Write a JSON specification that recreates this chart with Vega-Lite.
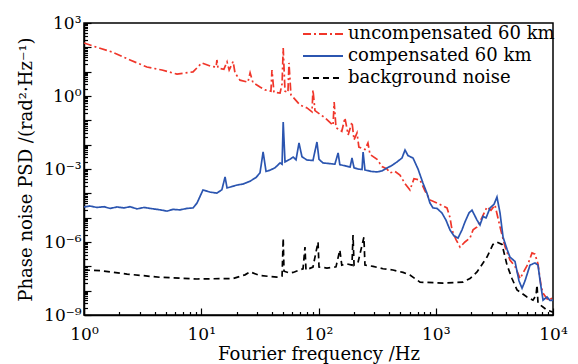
{
  "$schema": "https://vega.github.io/schema/vega-lite/v6.json",
  "width": 469,
  "height": 292,
  "autosize": {"type": "none"},
  "padding": {"left": 84, "top": 23, "right": 25, "bottom": 49},
  "background": "white",
  "config": {"view": {"stroke": "black", "strokeWidth": 1.5}, "font": "DejaVu Serif"},
  "data": {"values": [
    {"series": "background noise", "freq": 1, "psd": 7.08e-8},
    {"series": "background noise", "freq": 1.37, "psd": 6.61e-8},
    {"series": "background noise", "freq": 2.33, "psd": 4.79e-8},
    {"series": "background noise", "freq": 4.45, "psd": 3.55e-8},
    {"series": "background noise", "freq": 9.2, "psd": 3.02e-8},
    {"series": "background noise", "freq": 18.7, "psd": 3.16e-8},
    {"series": "background noise", "freq": 23.6, "psd": 4.47e-8},
    {"series": "background noise", "freq": 26.1, "psd": 5.89e-8},
    {"series": "background noise", "freq": 31.7, "psd": 4.17e-8},
    {"series": "background noise", "freq": 44.3, "psd": 3.63e-8},
    {"series": "background noise", "freq": 48.9, "psd": 3.98e-8},
    {"series": "background noise", "freq": 50, "psd": 1.45e-6},
    {"series": "background noise", "freq": 50.8, "psd": 6.31e-8},
    {"series": "background noise", "freq": 57.1, "psd": 5.25e-8},
    {"series": "background noise", "freq": 60.7, "psd": 5.62e-8},
    {"series": "background noise", "freq": 73.8, "psd": 7.94e-8},
    {"series": "background noise", "freq": 76.7, "psd": 6.17e-7},
    {"series": "background noise", "freq": 78.2, "psd": 7.08e-8},
    {"series": "background noise", "freq": 89.7, "psd": 9.33e-8},
    {"series": "background noise", "freq": 99.1, "psd": 1e-6},
    {"series": "background noise", "freq": 101, "psd": 9.33e-8},
    {"series": "background noise", "freq": 118, "psd": 8.51e-8},
    {"series": "background noise", "freq": 141, "psd": 9.55e-8},
    {"series": "background noise", "freq": 152, "psd": 4.68e-7},
    {"series": "background noise", "freq": 158, "psd": 1.12e-7},
    {"series": "background noise", "freq": 175, "psd": 1.26e-7},
    {"series": "background noise", "freq": 193, "psd": 1.12e-7},
    {"series": "background noise", "freq": 197, "psd": 1.95e-6},
    {"series": "background noise", "freq": 201, "psd": 1.12e-7},
    {"series": "background noise", "freq": 217, "psd": 1.41e-7},
    {"series": "background noise", "freq": 244, "psd": 1.58e-6},
    {"series": "background noise", "freq": 249, "psd": 1.12e-7},
    {"series": "background noise", "freq": 292, "psd": 1e-7},
    {"series": "background noise", "freq": 355, "psd": 7.94e-8},
    {"series": "background noise", "freq": 431, "psd": 7.08e-8},
    {"series": "background noise", "freq": 526, "psd": 5.62e-8},
    {"series": "background noise", "freq": 603, "psd": 4.37e-8},
    {"series": "background noise", "freq": 735, "psd": 2.24e-8},
    {"series": "background noise", "freq": 1153, "psd": 2.04e-8},
    {"series": "background noise", "freq": 1706, "psd": 2.24e-8},
    {"series": "background noise", "freq": 1959, "psd": 3.16e-8},
    {"series": "background noise", "freq": 2249, "psd": 5.89e-8},
    {"series": "background noise", "freq": 2735, "psd": 2.4e-7},
    {"series": "background noise", "freq": 3076, "psd": 7.94e-7},
    {"series": "background noise", "freq": 3327, "psd": 1e-6},
    {"series": "background noise", "freq": 3673, "psd": 7.94e-7},
    {"series": "background noise", "freq": 4055, "psd": 1.12e-7},
    {"series": "background noise", "freq": 4467, "psd": 3.16e-8},
    {"series": "background noise", "freq": 4932, "psd": 1.07e-8},
    {"series": "background noise", "freq": 5998, "psd": 5.5e-9},
    {"series": "background noise", "freq": 6745, "psd": 4.07e-9},
    {"series": "background noise", "freq": 7161, "psd": 6.31e-9},
    {"series": "background noise", "freq": 7311, "psd": 1.7e-8},
    {"series": "background noise", "freq": 7447, "psd": 3.09e-9},
    {"series": "background noise", "freq": 8892, "psd": 1.58e-9},
    {"series": "background noise", "freq": 10000, "psd": 1.32e-9},

    {"series": "uncompensated 60 km", "freq": 1, "psd": 151},
    {"series": "uncompensated 60 km", "freq": 1.29, "psd": 100},
    {"series": "uncompensated 60 km", "freq": 1.73, "psd": 64.6},
    {"series": "uncompensated 60 km", "freq": 2.47, "psd": 30.2},
    {"series": "uncompensated 60 km", "freq": 3.44, "psd": 15.5},
    {"series": "uncompensated 60 km", "freq": 4.62, "psd": 11.7},
    {"series": "uncompensated 60 km", "freq": 6.21, "psd": 7.94},
    {"series": "uncompensated 60 km", "freq": 8.51, "psd": 9.77},
    {"series": "uncompensated 60 km", "freq": 10.1, "psd": 22.9},
    {"series": "uncompensated 60 km", "freq": 11.9, "psd": 17.0},
    {"series": "uncompensated 60 km", "freq": 13.4, "psd": 15.5},
    {"series": "uncompensated 60 km", "freq": 13.6, "psd": 30.2},
    {"series": "uncompensated 60 km", "freq": 13.9, "psd": 14.1},
    {"series": "uncompensated 60 km", "freq": 15.6, "psd": 12.6},
    {"series": "uncompensated 60 km", "freq": 16.6, "psd": 25.1},
    {"series": "uncompensated 60 km", "freq": 17.3, "psd": 11.7},
    {"series": "uncompensated 60 km", "freq": 18.7, "psd": 26.3},
    {"series": "uncompensated 60 km", "freq": 19.4, "psd": 8.91},
    {"series": "uncompensated 60 km", "freq": 21.4, "psd": 4.47},
    {"series": "uncompensated 60 km", "freq": 25.0, "psd": 3.72},
    {"series": "uncompensated 60 km", "freq": 26.1, "psd": 8.91},
    {"series": "uncompensated 60 km", "freq": 27.6, "psd": 3.55},
    {"series": "uncompensated 60 km", "freq": 31.7, "psd": 2.34},
    {"series": "uncompensated 60 km", "freq": 35.0, "psd": 1.78},
    {"series": "uncompensated 60 km", "freq": 39.3, "psd": 1.58},
    {"series": "uncompensated 60 km", "freq": 40.1, "psd": 11.7},
    {"series": "uncompensated 60 km", "freq": 41.7, "psd": 1.41},
    {"series": "uncompensated 60 km", "freq": 47.0, "psd": 1.32},
    {"series": "uncompensated 60 km", "freq": 48.9, "psd": 3.16},
    {"series": "uncompensated 60 km", "freq": 50.0, "psd": 93.3},
    {"series": "uncompensated 60 km", "freq": 51.8, "psd": 1.58},
    {"series": "uncompensated 60 km", "freq": 54.9, "psd": 1.41},
    {"series": "uncompensated 60 km", "freq": 56.0, "psd": 22.9},
    {"series": "uncompensated 60 km", "freq": 58.2, "psd": 1.12},
    {"series": "uncompensated 60 km", "freq": 69.5, "psd": 0.427},
    {"series": "uncompensated 60 km", "freq": 79.8, "psd": 0.324},
    {"series": "uncompensated 60 km", "freq": 88.0, "psd": 0.224},
    {"series": "uncompensated 60 km", "freq": 89.7, "psd": 1.78},
    {"series": "uncompensated 60 km", "freq": 93.3, "psd": 0.251},
    {"series": "uncompensated 60 km", "freq": 103, "psd": 0.178},
    {"series": "uncompensated 60 km", "freq": 114, "psd": 0.126},
    {"series": "uncompensated 60 km", "freq": 133, "psd": 0.0631},
    {"series": "uncompensated 60 km", "freq": 136, "psd": 0.562},
    {"series": "uncompensated 60 km", "freq": 141, "psd": 0.0501},
    {"series": "uncompensated 60 km", "freq": 158, "psd": 0.0355},
    {"series": "uncompensated 60 km", "freq": 168, "psd": 0.126},
    {"series": "uncompensated 60 km", "freq": 179, "psd": 0.0251},
    {"series": "uncompensated 60 km", "freq": 193, "psd": 0.0851},
    {"series": "uncompensated 60 km", "freq": 201, "psd": 0.0158},
    {"series": "uncompensated 60 km", "freq": 213, "psd": 0.0302},
    {"series": "uncompensated 60 km", "freq": 221, "psd": 0.00794},
    {"series": "uncompensated 60 km", "freq": 249, "psd": 0.00631},
    {"series": "uncompensated 60 km", "freq": 264, "psd": 0.0117},
    {"series": "uncompensated 60 km", "freq": 275, "psd": 0.00398},
    {"series": "uncompensated 60 km", "freq": 316, "psd": 0.00251},
    {"series": "uncompensated 60 km", "freq": 348, "psd": 0.00126},
    {"series": "uncompensated 60 km", "freq": 384, "psd": 0.001},
    {"series": "uncompensated 60 km", "freq": 407, "psd": 6.92e-4},
    {"series": "uncompensated 60 km", "freq": 449, "psd": 7.94e-4},
    {"series": "uncompensated 60 km", "freq": 495, "psd": 5.62e-4},
    {"series": "uncompensated 60 km", "freq": 547, "psd": 2.51e-4},
    {"series": "uncompensated 60 km", "freq": 603, "psd": 1.38e-4},
    {"series": "uncompensated 60 km", "freq": 652, "psd": 3.98e-4},
    {"series": "uncompensated 60 km", "freq": 735, "psd": 3.55e-4},
    {"series": "uncompensated 60 km", "freq": 809, "psd": 1.26e-4},
    {"series": "uncompensated 60 km", "freq": 893, "psd": 5.37e-5},
    {"series": "uncompensated 60 km", "freq": 1025, "psd": 3.98e-5},
    {"series": "uncompensated 60 km", "freq": 1130, "psd": 3.16e-5},
    {"series": "uncompensated 60 km", "freq": 1247, "psd": 2.51e-5},
    {"series": "uncompensated 60 km", "freq": 1324, "psd": 1e-5},
    {"series": "uncompensated 60 km", "freq": 1377, "psd": 3.09e-6},
    {"series": "uncompensated 60 km", "freq": 1489, "psd": 1.26e-6},
    {"series": "uncompensated 60 km", "freq": 1611, "psd": 6.17e-7},
    {"series": "uncompensated 60 km", "freq": 1774, "psd": 1e-6},
    {"series": "uncompensated 60 km", "freq": 1959, "psd": 1.45e-6},
    {"series": "uncompensated 60 km", "freq": 2080, "psd": 3.16e-6},
    {"series": "uncompensated 60 km", "freq": 2249, "psd": 4.17e-6},
    {"series": "uncompensated 60 km", "freq": 2477, "psd": 1e-5},
    {"series": "uncompensated 60 km", "freq": 2735, "psd": 2.75e-5},
    {"series": "uncompensated 60 km", "freq": 2958, "psd": 2.0e-5},
    {"series": "uncompensated 60 km", "freq": 3199, "psd": 3.31e-5},
    {"series": "uncompensated 60 km", "freq": 3532, "psd": 4.17e-6},
    {"series": "uncompensated 60 km", "freq": 3899, "psd": 6.31e-7},
    {"series": "uncompensated 60 km", "freq": 4295, "psd": 1.82e-7},
    {"series": "uncompensated 60 km", "freq": 4742, "psd": 1e-7},
    {"series": "uncompensated 60 km", "freq": 5236, "psd": 3.16e-8},
    {"series": "uncompensated 60 km", "freq": 5660, "psd": 6.31e-8},
    {"series": "uncompensated 60 km", "freq": 6124, "psd": 1.26e-7},
    {"series": "uncompensated 60 km", "freq": 6622, "psd": 3.55e-7},
    {"series": "uncompensated 60 km", "freq": 7015, "psd": 3.16e-7},
    {"series": "uncompensated 60 km", "freq": 7447, "psd": 1.26e-7},
    {"series": "uncompensated 60 km", "freq": 7907, "psd": 1.58e-8},
    {"series": "uncompensated 60 km", "freq": 8222, "psd": 7.94e-9},
    {"series": "uncompensated 60 km", "freq": 9057, "psd": 4.07e-9},
    {"series": "uncompensated 60 km", "freq": 10000, "psd": 5.01e-9},

    {"series": "compensated 60 km", "freq": 1, "psd": 2.75e-5},
    {"series": "compensated 60 km", "freq": 1.12, "psd": 3.02e-5},
    {"series": "compensated 60 km", "freq": 1.29, "psd": 2.63e-5},
    {"series": "compensated 60 km", "freq": 1.48, "psd": 2.82e-5},
    {"series": "compensated 60 km", "freq": 1.67, "psd": 2.4e-5},
    {"series": "compensated 60 km", "freq": 1.91, "psd": 2.75e-5},
    {"series": "compensated 60 km", "freq": 2.19, "psd": 2.51e-5},
    {"series": "compensated 60 km", "freq": 2.47, "psd": 2.82e-5},
    {"series": "compensated 60 km", "freq": 2.83, "psd": 2.29e-5},
    {"series": "compensated 60 km", "freq": 3.25, "psd": 2.63e-5},
    {"series": "compensated 60 km", "freq": 3.66, "psd": 2.4e-5},
    {"series": "compensated 60 km", "freq": 4.2, "psd": 2.19e-5},
    {"series": "compensated 60 km", "freq": 4.72, "psd": 2.0e-5},
    {"series": "compensated 60 km", "freq": 5.11, "psd": 1.86e-5},
    {"series": "compensated 60 km", "freq": 5.74, "psd": 2.19e-5},
    {"series": "compensated 60 km", "freq": 6.59, "psd": 2.09e-5},
    {"series": "compensated 60 km", "freq": 7.55, "psd": 2.4e-5},
    {"series": "compensated 60 km", "freq": 8.51, "psd": 2.51e-5},
    {"series": "compensated 60 km", "freq": 9.2, "psd": 3.98e-5},
    {"series": "compensated 60 km", "freq": 10.35, "psd": 1.38e-4},
    {"series": "compensated 60 km", "freq": 11.9, "psd": 1.12e-4},
    {"series": "compensated 60 km", "freq": 13.6, "psd": 1.02e-4},
    {"series": "compensated 60 km", "freq": 15.0, "psd": 1.41e-4},
    {"series": "compensated 60 km", "freq": 15.96, "psd": 4.68e-4},
    {"series": "compensated 60 km", "freq": 16.6, "psd": 1.66e-4},
    {"series": "compensated 60 km", "freq": 18.3, "psd": 1.91e-4},
    {"series": "compensated 60 km", "freq": 20.2, "psd": 2.19e-4},
    {"series": "compensated 60 km", "freq": 22.7, "psd": 2.4e-4},
    {"series": "compensated 60 km", "freq": 26.1, "psd": 3.16e-4},
    {"series": "compensated 60 km", "freq": 29.3, "psd": 4.47e-4},
    {"series": "compensated 60 km", "freq": 31.7, "psd": 6.92e-4},
    {"series": "compensated 60 km", "freq": 33.7, "psd": 5.01e-3},
    {"series": "compensated 60 km", "freq": 35.7, "psd": 7.94e-4},
    {"series": "compensated 60 km", "freq": 38.5, "psd": 8.91e-4},
    {"series": "compensated 60 km", "freq": 42.6, "psd": 1.12e-3},
    {"series": "compensated 60 km", "freq": 47.0, "psd": 1.78e-3},
    {"series": "compensated 60 km", "freq": 48.9, "psd": 1.58e-3},
    {"series": "compensated 60 km", "freq": 50.0, "psd": 0.0851},
    {"series": "compensated 60 km", "freq": 51.8, "psd": 1.95e-3},
    {"series": "compensated 60 km", "freq": 57.1, "psd": 2.51e-3},
    {"series": "compensated 60 km", "freq": 60.7, "psd": 3.09e-3},
    {"series": "compensated 60 km", "freq": 64.3, "psd": 2.4e-3},
    {"series": "compensated 60 km", "freq": 68.2, "psd": 0.0117},
    {"series": "compensated 60 km", "freq": 72.3, "psd": 3.16e-3},
    {"series": "compensated 60 km", "freq": 79.8, "psd": 2.34e-3},
    {"series": "compensated 60 km", "freq": 89.7, "psd": 2.24e-3},
    {"series": "compensated 60 km", "freq": 97.0, "psd": 0.0129},
    {"series": "compensated 60 km", "freq": 101, "psd": 2.51e-3},
    {"series": "compensated 60 km", "freq": 109, "psd": 1.78e-3},
    {"series": "compensated 60 km", "freq": 125, "psd": 1.66e-3},
    {"series": "compensated 60 km", "freq": 138, "psd": 1.58e-3},
    {"series": "compensated 60 km", "freq": 147, "psd": 4.57e-3},
    {"series": "compensated 60 km", "freq": 152, "psd": 1.51e-3},
    {"series": "compensated 60 km", "freq": 172, "psd": 1.32e-3},
    {"series": "compensated 60 km", "freq": 186, "psd": 1.2e-3},
    {"series": "compensated 60 km", "freq": 193, "psd": 2.82e-3},
    {"series": "compensated 60 km", "freq": 201, "psd": 1.12e-3},
    {"series": "compensated 60 km", "freq": 217, "psd": 1.0e-3},
    {"series": "compensated 60 km", "freq": 235, "psd": 9.55e-4},
    {"series": "compensated 60 km", "freq": 240, "psd": 5.01e-3},
    {"series": "compensated 60 km", "freq": 249, "psd": 9.12e-4},
    {"series": "compensated 60 km", "freq": 281, "psd": 7.94e-4},
    {"series": "compensated 60 km", "freq": 316, "psd": 7.59e-4},
    {"series": "compensated 60 km", "freq": 348, "psd": 8.32e-4},
    {"series": "compensated 60 km", "freq": 384, "psd": 1.1e-3},
    {"series": "compensated 60 km", "freq": 424, "psd": 1.41e-3},
    {"series": "compensated 60 km", "freq": 467, "psd": 1.95e-3},
    {"series": "compensated 60 km", "freq": 515, "psd": 2.82e-3},
    {"series": "compensated 60 km", "freq": 547, "psd": 6.03e-3},
    {"series": "compensated 60 km", "freq": 580, "psd": 3.55e-3},
    {"series": "compensated 60 km", "freq": 640, "psd": 2.82e-3},
    {"series": "compensated 60 km", "freq": 706, "psd": 1.0e-3},
    {"series": "compensated 60 km", "freq": 778, "psd": 2.63e-4},
    {"series": "compensated 60 km", "freq": 842, "psd": 1.0e-4},
    {"series": "compensated 60 km", "freq": 893, "psd": 3.98e-5},
    {"series": "compensated 60 km", "freq": 948, "psd": 2.51e-5},
    {"series": "compensated 60 km", "freq": 1025, "psd": 2.4e-5},
    {"series": "compensated 60 km", "freq": 1130, "psd": 1.55e-5},
    {"series": "compensated 60 km", "freq": 1222, "psd": 7.94e-6},
    {"series": "compensated 60 km", "freq": 1324, "psd": 3.09e-6},
    {"series": "compensated 60 km", "freq": 1432, "psd": 1.78e-6},
    {"series": "compensated 60 km", "freq": 1549, "psd": 1.45e-6},
    {"series": "compensated 60 km", "freq": 1675, "psd": 3.16e-6},
    {"series": "compensated 60 km", "freq": 1774, "psd": 6.61e-6},
    {"series": "compensated 60 km", "freq": 1923, "psd": 1.58e-5},
    {"series": "compensated 60 km", "freq": 2037, "psd": 2.04e-5},
    {"series": "compensated 60 km", "freq": 2249, "psd": 7.94e-6},
    {"series": "compensated 60 km", "freq": 2384, "psd": 5.01e-6},
    {"series": "compensated 60 km", "freq": 2529, "psd": 1.12e-5},
    {"series": "compensated 60 km", "freq": 2685, "psd": 9.77e-6},
    {"series": "compensated 60 km", "freq": 2904, "psd": 2.51e-5},
    {"series": "compensated 60 km", "freq": 3141, "psd": 3.55e-5},
    {"series": "compensated 60 km", "freq": 3327, "psd": 7.08e-5},
    {"series": "compensated 60 km", "freq": 3532, "psd": 1.58e-5},
    {"series": "compensated 60 km", "freq": 3750, "psd": 1.58e-6},
    {"series": "compensated 60 km", "freq": 4055, "psd": 5.01e-7},
    {"series": "compensated 60 km", "freq": 4295, "psd": 2.4e-7},
    {"series": "compensated 60 km", "freq": 4742, "psd": 1.58e-7},
    {"series": "compensated 60 km", "freq": 5129, "psd": 2.51e-8},
    {"series": "compensated 60 km", "freq": 5445, "psd": 1.26e-8},
    {"series": "compensated 60 km", "freq": 5768, "psd": 2.51e-8},
    {"series": "compensated 60 km", "freq": 6368, "psd": 1.12e-7},
    {"series": "compensated 60 km", "freq": 7015, "psd": 1.38e-7},
    {"series": "compensated 60 km", "freq": 7447, "psd": 1.12e-7},
    {"series": "compensated 60 km", "freq": 7745, "psd": 2.75e-8},
    {"series": "compensated 60 km", "freq": 8222, "psd": 4.07e-9},
    {"series": "compensated 60 km", "freq": 8892, "psd": 5.5e-9},
    {"series": "compensated 60 km", "freq": 9419, "psd": 3.98e-9},
    {"series": "compensated 60 km", "freq": 10000, "psd": 4.07e-9}
  ]},
  "mark": {"type": "line", "strokeWidth": 1.7, "clip": true},
  "encoding": {
    "x": {
      "field": "freq", "type": "quantitative",
      "scale": {"type": "log", "domain": [1, 10000], "nice": false},
      "axis": {
        "values": [1,2,3,4,5,6,7,8,9,10,20,30,40,50,60,70,80,90,100,200,300,400,500,600,700,800,900,1000,2000,3000,4000,5000,6000,7000,8000,9000,10000],
        "labelExpr": "abs(log(datum.value)/LN10 - round(log(datum.value)/LN10)) < 0.001 ? ['10⁰','10¹','10²','10³','10⁴'][round(log(datum.value)/LN10)] : ''",
        "title": "Fourier frequency /Hz",
        "titleFont": "DejaVu Serif", "titleFontSize": 18, "titleFontWeight": "normal", "titleColor": "black", "titlePadding": 0,
        "labelFont": "DejaVu Serif", "labelFontSize": 17, "labelColor": "black", "labelPadding": 18,
        "labelOverlap": false, "labelFlush": false,
        "tickColor": "black", "tickWidth": 1.2,
        "tickSize": {"condition": {"test": "abs(log(datum.value)/LN10 - round(log(datum.value)/LN10)) < 0.001", "value": -7}, "value": -3.5},
        "domainColor": "black", "domainWidth": 1.5, "grid": false
      }
    },
    "y": {
      "field": "psd", "type": "quantitative",
      "scale": {"type": "log", "domain": [1e-9, 1000], "nice": false},
      "axis": {
        "values": [1e-9,2e-9,3e-9,4e-9,5e-9,6e-9,7e-9,8e-9,9e-9,1e-8,2e-8,3e-8,4e-8,5e-8,6e-8,7e-8,8e-8,9e-8,1e-7,2e-7,3e-7,4e-7,5e-7,6e-7,7e-7,8e-7,9e-7,1e-6,2e-6,3e-6,4e-6,5e-6,6e-6,7e-6,8e-6,9e-6,1e-5,2e-5,3e-5,4e-5,5e-5,6e-5,7e-5,8e-5,9e-5,1e-4,2e-4,3e-4,4e-4,5e-4,6e-4,7e-4,8e-4,9e-4,0.001,0.002,0.003,0.004,0.005,0.006,0.007,0.008,0.009,0.01,0.02,0.03,0.04,0.05,0.06,0.07,0.08,0.09,0.1,0.2,0.3,0.4,0.5,0.6,0.7,0.8,0.9,1,2,3,4,5,6,7,8,9,10,20,30,40,50,60,70,80,90,100,200,300,400,500,600,700,800,900,1000],
        "labelExpr": "abs(log(datum.value)/LN10 - round(log(datum.value)/LN10)) < 0.001 ? ['10⁻⁹','','','10⁻⁶','','','10⁻³','','','10⁰','','','10³'][round(log(datum.value)/LN10)+9] : ''",
        "title": "Phase noise PSD /(rad²·Hz⁻¹)",
        "titleFont": "DejaVu Serif", "titleFontSize": 18, "titleFontWeight": "normal", "titleColor": "black", "titlePadding": 8,
        "labelFont": "DejaVu Serif", "labelFontSize": 17, "labelColor": "black", "labelPadding": 10,
        "labelOverlap": false, "labelFlush": false,
        "tickColor": "black", "tickWidth": 1.2,
        "tickSize": {"condition": {"test": "abs(log(datum.value)/LN10 - round(log(datum.value)/LN10)) < 0.001", "value": -7}, "value": -3.5},
        "domainColor": "black", "domainWidth": 1.5, "grid": false
      }
    },
    "color": {
      "field": "series", "type": "nominal",
      "scale": {"domain": ["uncompensated 60 km", "compensated 60 km", "background noise"], "range": ["#f0362a", "#2b55b0", "#000000"]},
      "legend": {"orient": "none", "legendX": 228, "legendY": 0, "title": null, "symbolType": "M-2,0H2", "symbolSize": 400, "symbolStrokeWidth": 1.8, "labelFont": "DejaVu Serif", "labelFontSize": 18, "labelColor": "black", "labelLimit": 400, "rowPadding": 2, "labelOffset": 14, "padding": 0}
    },
    "strokeDash": {
      "field": "series", "type": "nominal",
      "scale": {"domain": ["uncompensated 60 km", "compensated 60 km", "background noise"], "range": [[8, 3, 2, 3], [1, 0], [6, 4]]},
      "legend": {"orient": "none", "legendX": 228, "legendY": 0, "title": null, "symbolType": "M-2,0H2", "symbolSize": 400, "symbolStrokeWidth": 1.8, "labelFont": "DejaVu Serif", "labelFontSize": 18, "labelColor": "black", "labelLimit": 400, "rowPadding": 2, "labelOffset": 14, "padding": 0}
    }
  }
}
